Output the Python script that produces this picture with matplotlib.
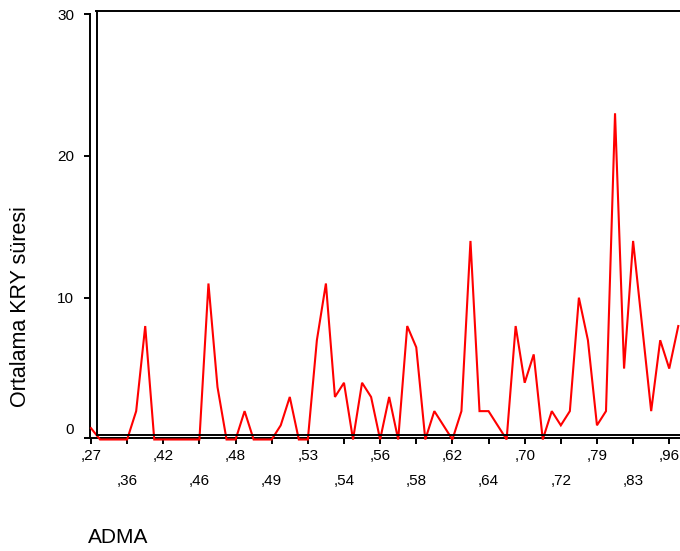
import matplotlib
matplotlib.use("Agg")
import matplotlib.pyplot as plt
from matplotlib.lines import Line2D

plt.rcParams['font.family'] = ['Liberation Sans', 'DejaVu Sans']

# Data (mean KRY duration per ADMA category)
values = [0.8, 0, 0, 0, 0, 2, 8, 0, 0, 0,
          0, 0, 0, 11, 3.7, 0, 0, 2, 0, 0,
          0, 1, 3, 0, 0, 7, 11, 3, 4, 0,
          4, 3, 0, 3, 0, 8, 6.5, 0, 2, 1,
          0, 2, 14, 2, 2, 1, 0, 8, 4, 6,
          0, 2, 1, 2, 10, 7, 1, 2, 23, 5,
          14, 8, 2, 7, 5, 8]
tick_labels = [",27", ",36", ",42", ",46", ",48", ",49", ",53", ",54", ",56",
               ",58", ",62", ",64", ",70", ",72", ",79", ",83", ",96"]
y_ticks = [10, 20, 30]

W, H = 680, 551
fig = plt.figure(figsize=(W / 100, H / 100), dpi=100)

# pixel geometry
ax_left, ax_right = 90, 680
ax_top, ax_bottom = 14, 437.5
zero_px = 439.5
px_per_unit = (zero_px - ax_top) / 30.0
v0 = (zero_px - ax_bottom) / px_per_unit

ax = fig.add_axes([ax_left / W, 1 - ax_bottom / H,
                   (ax_right - ax_left) / W, (ax_bottom - ax_top) / H])
ax.set_facecolor('none')

x = list(range(len(values)))
ax.plot(x, values, color='#ff0000', lw=1.5, clip_on=False, zorder=5,
        solid_joinstyle='miter')

ax.set_ylim(v0, 30)
xpx = 9.035
ax.set_xlim(-1 / xpx, -1 / xpx + (ax_right - ax_left) / xpx)

for s in ['top', 'right']:
    ax.spines[s].set_visible(False)
for s in ['left', 'bottom']:
    ax.spines[s].set_linewidth(1.4)
    ax.spines[s].set_color('black')

ax.set_yticks([v0] + y_ticks)
ax.set_yticklabels(['0'] + [str(t) for t in y_ticks])
ax.tick_params(axis='y', direction='out', length=4.5, width=1.4,
               pad=7, labelsize=11, colors='black')
ax.get_yticklabels()[0].set_va('bottom')

pos = [4 * k for k in range(len(tick_labels))]
major_pos = pos[0::2]
minor_pos = pos[1::2]
ax.set_xticks(major_pos)
ax.set_xticklabels(tick_labels[0::2])
ax.set_xticks(minor_pos, minor=True)
ax.set_xticklabels(tick_labels[1::2], minor=True)
ax.tick_params(axis='x', which='major', direction='out', length=4, width=1.4,
               pad=4, labelsize=11)
ax.tick_params(axis='x', which='minor', direction='out', length=4, width=1.4,
               pad=22.5, labelsize=11)

# inner frame (SPSS style)
def fx(p):
    return p / W

def fy(p):
    return 1 - p / H

frame_kw = dict(color='black', lw=1.4, transform=fig.transFigure)
fig.add_artist(Line2D([fx(97), fx(97)], [fy(11), fy(435)], **frame_kw))
fig.add_artist(Line2D([fx(96.3), fx(681)], [fy(11), fy(11)], **frame_kw))
fig.add_artist(Line2D([fx(97), fx(681)], [fy(435), fy(435)], **frame_kw))

fig.text(20.5 / W, fy(307), 'Ortalama KRY süresi', rotation=90,
         ha='center', va='center', fontsize=15.5)
fig.text(88 / W, fy(543.3), 'ADMA', ha='left', va='baseline', fontsize=15)

fig.savefig('out.png', dpi=100)
